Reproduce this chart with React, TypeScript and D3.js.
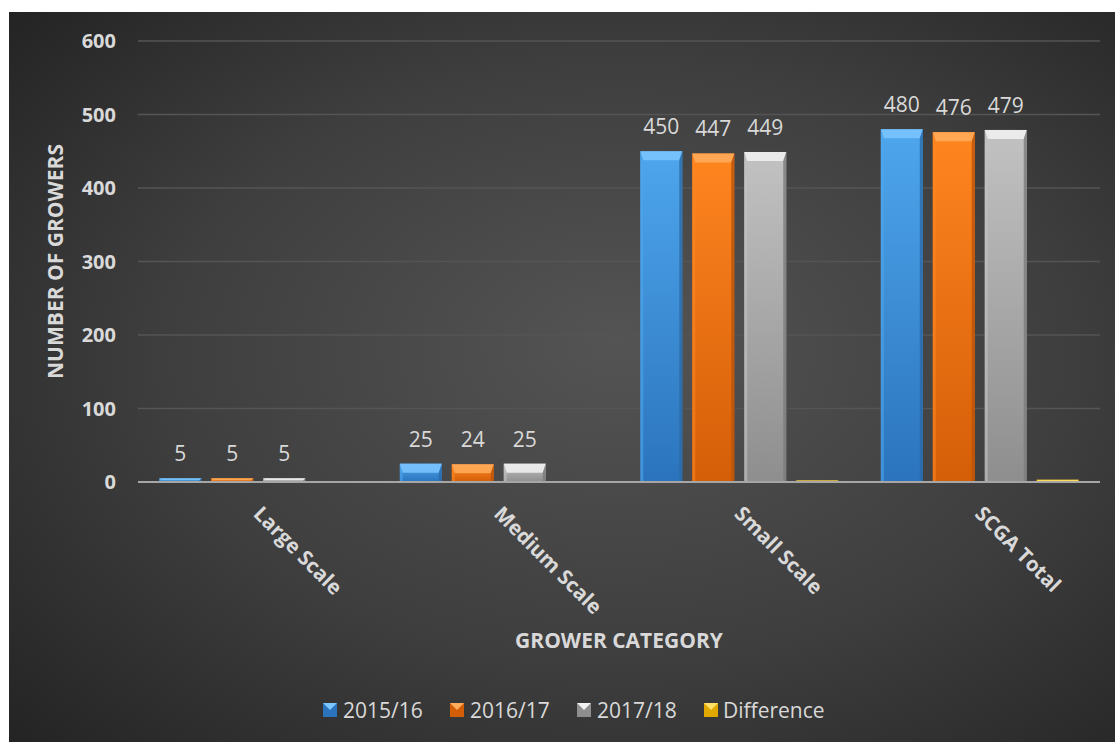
import React from "react";
import * as d3 from "d3";

const categories = ["Large Scale", "Medium Scale", "Small Scale", "SCGA Total"];
const seriesNames = ["2015/16", "2016/17", "2017/18", "Difference"];
const values2015 = [5, 25, 450, 480];
const values2016 = [5, 24, 447, 476];
const values2017 = [5, 25, 449, 479];
const valuesDiff = [0, 1, 2, 3];
const showLabels = [true, true, true, false];
const yTicks = [0, 100, 200, 300, 400, 500, 600];

const W = 1115;
const H = 742;
const FONT = "'Open Sans', Lato, sans-serif";
const TEXT = "#d9d9d9";

const palette = [
  { top: "#7cc6ff", light: "#4ea6ec", dark: "#2b74bd", side: "#2a6aa8" },
  { top: "#ffad5c", light: "#ff8520", dark: "#d45e08", side: "#b9520a" },
  { top: "#f2f2f2", light: "#c2c2c2", dark: "#8e8e8e", side: "#7c7c7c" },
  { top: "#ffe066", light: "#ffc800", dark: "#e0a800", side: "#c09000" },
];

export default function App() {
  const series = [values2015, values2016, values2017, valuesDiff];
  const left = 138, right = 1100, top = 41, bottom = 482;
  const x0 = d3.scaleBand<string>().domain(categories).range([left, right]).paddingInner(0).paddingOuter(0);
  const x1 = d3
    .scaleBand<string>()
    .domain(seriesNames)
    .range([0, x0.bandwidth()])
    .paddingInner(0.192)
    .paddingOuter(0.41);
  const y = d3.scaleLinear().domain([0, 600]).range([bottom, top]);
  const bw = x1.bandwidth();

  const legendItems = [
    { name: seriesNames[0], sx: 323, tx: 343 },
    { name: seriesNames[1], sx: 450, tx: 470 },
    { name: seriesNames[2], sx: 577, tx: 597 },
    { name: seriesNames[3], sx: 704, tx: 723 },
  ];

  return (
    <div style={{ position: "absolute", left: 0, top: 0 }}>
      <svg width={W} height={H} style={{ display: "block" }}>
        <defs>
          <radialGradient id="bg" cx="0.55" cy="0.5" r="0.75" fx="0.55" fy="0.45">
            <stop offset="0" stopColor="#545454" />
            <stop offset="0.55" stopColor="#3e3e3e" />
            <stop offset="1" stopColor="#232323" />
          </radialGradient>
          {palette.map((p, i) => (
            <linearGradient key={i} id={`g${i}`} x1="0" y1="0" x2="0" y2="1">
              <stop offset="0" stopColor={p.light} />
              <stop offset="1" stopColor={p.dark} />
            </linearGradient>
          ))}
        </defs>
        <rect x={0} y={0} width={W} height={H} fill="#ffffff" />
        <rect x={9} y={12} width={W - 9} height={H - 12} fill="url(#bg)" />

        {yTicks.map((t) => (
          <g key={t}>
            {t !== 0 && (
              <line x1={left} x2={right} y1={y(t)} y2={y(t)} stroke="#555555" strokeWidth={1.5} />
            )}
            <text
              x={116}
              y={y(t)}
              dy="0.36em"
              textAnchor="end"
              fill={TEXT}
              fontFamily={FONT}
              fontWeight="bold"
              fontSize={20}
            >
              {t}
            </text>
          </g>
        ))}

        {categories.map((c, ci) => (
          <g key={c}>
            {series.map((vals, si) => {
              const v = vals[ci];
              const bx = (x0(c) as number) + (x1(seriesNames[si]) as number);
              const by = y(v);
              const h = y(0) - by;
              const p = palette[si];
              const b = Math.min(9, h / 2);
              const s = Math.min(3, h / 2);
              return (
                <g key={si}>
                  {h > 0 && (
                    <g>
                      <rect x={bx} y={by} width={bw} height={h} fill={`url(#g${si})`} />
                      <polygon
                        points={`${bx},${by} ${bx + bw},${by} ${bx + bw - s},${by + b} ${bx + s},${by + b}`}
                        fill={p.top}
                        opacity={0.85}
                      />
                      <polygon
                        points={`${bx},${by} ${bx + s},${by + b} ${bx + s},${by + h} ${bx},${by + h}`}
                        fill={p.light}
                        opacity={0.6}
                      />
                      <polygon
                        points={`${bx + bw},${by} ${bx + bw - s},${by + b} ${bx + bw - s},${by + h} ${bx + bw},${by + h}`}
                        fill={p.side}
                        opacity={0.8}
                      />
                    </g>
                  )}
                  {showLabels[si] && (
                    <text
                      x={bx + bw / 2}
                      y={by - 17}
                      textAnchor="middle"
                      fill={TEXT}
                      fontFamily={FONT}
                      fontSize={21}
                    >
                      {v}
                    </text>
                  )}
                </g>
              );
            })}
            <text
              transform={`translate(${(x0(c) as number) + x0.bandwidth() / 2 - 6},${515}) rotate(45)`}
              fill={TEXT}
              fontFamily={FONT}
              fontWeight="bold"
              fontSize={20.5}
            >
              {c}
            </text>
          </g>
        ))}

        <line x1={left} x2={right} y1={y(0)} y2={y(0)} stroke="#a6a6a6" strokeWidth={2} />

        <text
          transform={`translate(63,${(top + bottom) / 2}) rotate(-90)`}
          textAnchor="middle"
          fill={TEXT}
          fontFamily={FONT}
          fontWeight="bold"
          fontSize={21}
        >
          NUMBER OF GROWERS
        </text>
        <text
          x={(left + right) / 2}
          y={648}
          textAnchor="middle"
          fill={TEXT}
          fontFamily={FONT}
          fontWeight="bold"
          fontSize={21}
        >
          GROWER CATEGORY
        </text>

        {legendItems.map((it, i) => (
          <g key={it.name}>
            <rect x={it.sx} y={703} width={14} height={14} fill={palette[i].dark} />
            <polygon
              points={`${it.sx},703 ${it.sx + 14},703 ${it.sx + 7},710`}
              fill={palette[i].top}
            />
            <text x={it.tx} y={718} fill={TEXT} fontFamily={FONT} fontSize={21}>
              {it.name}
            </text>
          </g>
        ))}
      </svg>
    </div>
  );
}
